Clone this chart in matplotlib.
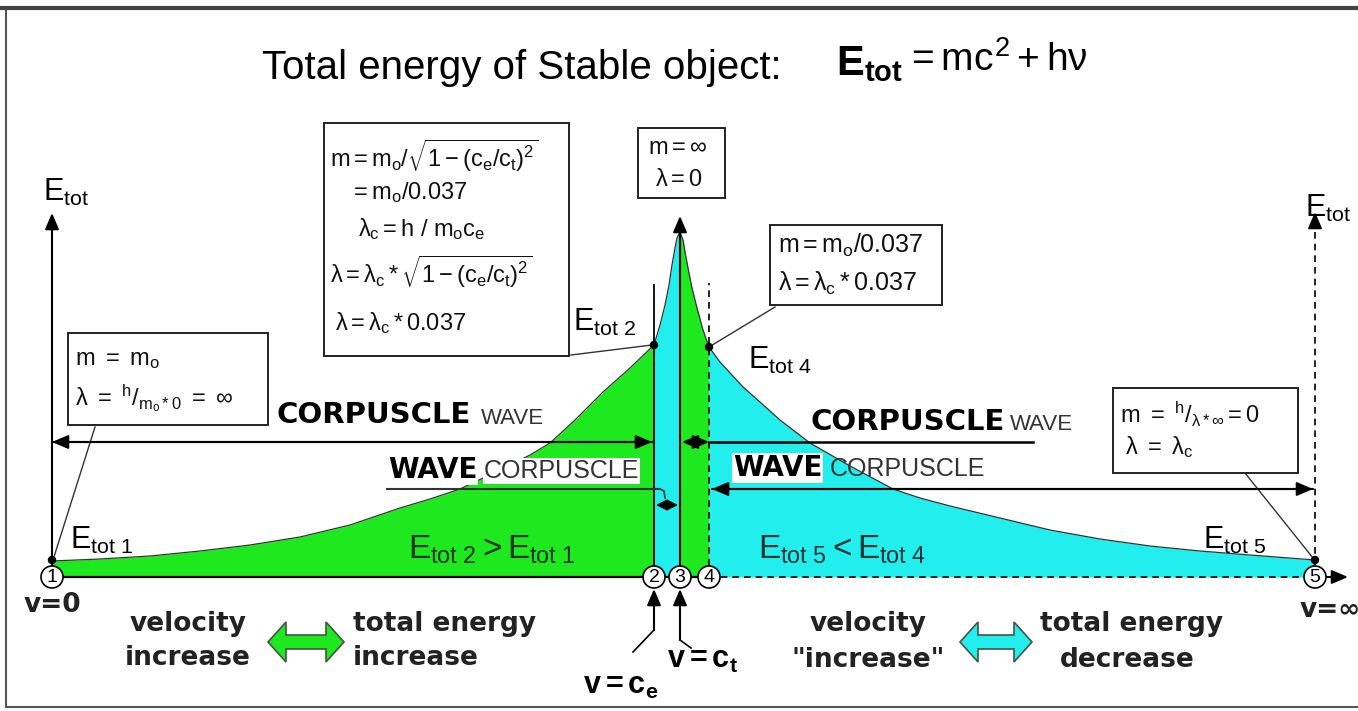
import matplotlib
matplotlib.use("Agg")
import matplotlib.pyplot as plt
from matplotlib.patches import Rectangle, Circle, Polygon

plt.rcParams['mathtext.fontset'] = 'custom'
plt.rcParams['mathtext.rm'] = 'Liberation Sans'
plt.rcParams['mathtext.it'] = 'Liberation Sans'
plt.rcParams['mathtext.bf'] = 'Liberation Sans:bold'
plt.rcParams['font.family'] = ['Liberation Sans', 'DejaVu Sans']

# ---------------- data (pixel-space diagram coordinates) ----------------
baseline = 577
# characteristic points 1..5 on the velocity axis
point_x = [52, 654, 680, 709, 1315]
point_labels = ['1', '2', '3', '4', '5']

# energy envelope: 1 -> 2 (green)
seg12_x = [52, 100, 150, 200, 250, 300, 350, 400, 430, 460, 500, 530, 550, 575, 603, 630, 654]
seg12_y = [561, 559, 556, 551, 545, 537, 525, 508, 499, 489, 470, 455, 443, 420, 392, 368, 345]
# 2 -> 3 (cyan)
seg23_x = [654, 660, 665, 669, 672, 675, 677, 680]
seg23_y = [345, 325, 305, 285, 265, 248, 238, 232]
# 3 -> 4 (green)
seg34_x = [680, 683, 685, 688, 692, 697, 703, 709]
seg34_y = [232, 240, 252, 268, 288, 308, 330, 347]
# 4 -> 5 (cyan)
seg45_x = [709, 720, 743, 760, 780, 810, 850, 893, 920, 950, 1000, 1050, 1100, 1150, 1200, 1250, 1315]
seg45_y = [347, 362, 387, 402, 420, 443, 466, 489, 498, 506, 518, 530, 539, 546, 551, 555, 560]

GREEN = '#1ee81e'
CYAN = '#22eeee'

fig = plt.figure(figsize=(13.58, 7.11), dpi=100)
ax = fig.add_axes([0, 0, 1, 1])
ax.set_xlim(0, 1358)
ax.set_ylim(711, 0)
ax.axis('off')

# outer frame
ax.add_patch(Rectangle((6, 8), 1360, 699, fill=False, ec='#555555', lw=1.5))
ax.plot([0, 1358], [8, 8], color='#444444', lw=3)

# fills
for xs, ys, c in [(seg12_x, seg12_y, GREEN), (seg23_x, seg23_y, CYAN),
                  (seg34_x, seg34_y, GREEN), (seg45_x, seg45_y, CYAN)]:
    ax.fill_between(xs, ys, baseline, color=c, lw=0, zorder=1)
    ax.plot(xs, ys, color='#333333', lw=0.9, zorder=2)

AP = dict(arrowstyle='-|>,head_length=0.7,head_width=0.3', color='black', lw=1.5,
          shrinkA=0, shrinkB=0, mutation_scale=14)
AP2 = dict(arrowstyle='<|-|>,head_length=0.7,head_width=0.3', color='black', lw=1.5,
           shrinkA=0, shrinkB=0, mutation_scale=14)
AP3 = dict(arrowstyle='<|-|>,head_length=0.6,head_width=0.3', color='black', lw=1.2,
           shrinkA=0, shrinkB=0, mutation_scale=11)

def arrow(x0, y0, x1, y1, props=AP):
    ax.annotate('', xy=(x1, y1), xytext=(x0, y0), arrowprops=props, zorder=5)

# horizontal axis
ax.plot([52, 709], [baseline, baseline], color='black', lw=1.6, zorder=3)
ax.plot([709, 1315], [baseline, baseline], color='black', lw=1.2, ls=(0, (4, 3)), zorder=3)
arrow(1326, baseline, 1348, baseline)

# vertical axes
arrow(52, baseline, 52, 213)
ax.plot([1315, 1315], [baseline, 222], color='black', lw=1.2, ls=(0, (4, 3)), zorder=3)
arrow(1315, 226, 1315, 212)
arrow(680, baseline, 680, 216)
ax.plot([654, 654], [baseline, 285], color='black', lw=1.3, zorder=3)
ax.plot([709, 709], [baseline, 283], color='black', lw=1.2, ls=(0, (4, 3)), zorder=3)

# characteristic dots
for (px, py) in [(52, 560), (654, 345), (709, 347), (1315, 560)]:
    ax.add_patch(Circle((px, py), 3.5, color='black', zorder=6))

# numbered circles
for px, lab in zip(point_x, point_labels):
    ax.add_patch(Circle((px, baseline), 11, fc='white', ec='black', lw=1.2, zorder=7))
    ax.text(px, baseline + 1, lab, ha='center', va='center', fontsize=14, zorder=8)

# CORPUSCLE / WAVE arrows
arrow(652, 442, 52, 442)
arrow(52, 442, 652, 442)
ax.plot([709, 1033], [442, 442], color='black', lw=1.8, zorder=4)
arrow(682, 442, 709, 442, AP2)
ax.plot([387, 660], [489, 489], color='#333333', lw=1.5, zorder=4)
ax.plot([660, 664, 665], [489, 491, 498], color='#333333', lw=1.2, zorder=4)
arrow(656, 505, 678, 505, AP3)
arrow(1313, 489, 712, 489)
arrow(712, 489, 1313, 489)

# leader lines
for (x0, y0, x1, y1) in [(95, 427, 53, 560), (571, 355, 652, 345),
                         (775, 307, 709, 347), (1245, 473, 1313, 558)]:
    ax.plot([x0, x1], [y0, y1], color='#333333', lw=1.0, zorder=4)

# boxes
def box(x0, y0, x1, y1):
    ax.add_patch(Rectangle((x0, y0), x1 - x0, y1 - y0, fc='white', ec='#222222', lw=1.4, zorder=5))

box(68, 333, 268, 425)
box(324, 123, 569, 356)
box(638, 128, 725, 198)
box(770, 225, 942, 305)
box(1113, 388, 1298, 473)

BT = dict(fontsize=17, va='center', ha='left', zorder=6, color='#111111')
ax.text(330, 156, r'$m = m_o/\sqrt{1-(c_e/c_t)^2}$', **BT)
ax.text(350, 193, r'$= m_o/0.037$', **BT)
ax.text(358, 229, r'$\lambda_c = h\ /\ m_o c_e$', **BT)
ax.text(330, 272, r'$\lambda = \lambda_c * \sqrt{1-(c_e/c_t)^2}$', **BT)
ax.text(335, 323, r'$\lambda = \lambda_c * 0.037$', **BT)
ax.text(648, 148, r'$m = \infty$', **BT)
ax.text(655, 180, r'$\lambda = 0$', **BT)
ax.text(778, 245, r'$m = m_o/0.037$', fontsize=18, va='center', ha='left', zorder=6, color='#111111')
ax.text(778, 283, r'$\lambda = \lambda_c * 0.037$', fontsize=18, va='center', ha='left', zorder=6, color='#111111')
ax.text(75, 360, r'$m\ =\ m_o$', **BT)
ax.text(75, 398, r'$\lambda\ =\ {}^h/_{m_o * 0}\ =\ \infty$', **BT)
ax.text(1120, 414, r'$m\ =\ {}^h/_{\lambda * \infty} = 0$', **BT)
ax.text(1125, 447, r'$\lambda\ =\ \lambda_c$', **BT)

# E_tot labels
ET = dict(fontsize=22, va='center', ha='left', zorder=6)
ax.text(43, 192, r'$E_{tot}$', **ET)
ax.text(1305, 208, r'$E_{tot}$', **ET)
ax.text(70, 540, r'$E_{tot\ 1}$', **ET)
ax.text(573, 322, r'$E_{tot\ 2}$', **ET)
ax.text(748, 360, r'$E_{tot\ 4}$', **ET)
ax.text(1203, 540, r'$E_{tot\ 5}$', **ET)
ax.text(408, 550, r'$E_{tot\ 2} > E_{tot\ 1}$', color='#113311', fontsize=24, va='center', ha='left', zorder=6)
ax.text(758, 550, r'$E_{tot\ 5} < E_{tot\ 4}$', color='#113333', fontsize=24, va='center', ha='left', zorder=6)

# CORPUSCLE / WAVE words
BOLD = dict(family='DejaVu Sans', fontweight='bold', va='center', ha='left', zorder=6)
ax.text(277, 415, 'CORPUSCLE', fontsize=21, **BOLD)
ax.text(481, 418, 'WAVE', fontsize=16, va='center', ha='left', zorder=6, color='#333333')
ax.text(810, 422, 'CORPUSCLE', fontsize=21, **BOLD)
ax.text(1010, 425, 'WAVE', fontsize=16, va='center', ha='left', zorder=6, color='#333333')
ax.text(388, 470, 'WAVE', fontsize=20, bbox=dict(fc='white', ec='none', pad=0.5), **BOLD)
ax.text(484, 471, 'CORPUSCLE', fontsize=18, va='center', ha='left', zorder=6, color='#333333',
        bbox=dict(fc='white', ec='none', pad=0.5))
ax.text(733, 468, 'WAVE', fontsize=20, bbox=dict(fc='white', ec='none', pad=0.5), **BOLD)
ax.text(830, 469, 'CORPUSCLE', fontsize=18, va='center', ha='left', zorder=6, color='#333333')

# title
ax.text(262, 68, 'Total energy of Stable object:', fontsize=29, va='center', ha='left')
ax.text(836, 64, r'$\mathbf{E_{tot}}$', fontsize=30, va='center', ha='left')
ax.text(905, 60, r'$= mc^2 + h\nu$', fontsize=28, va='center', ha='left')

# bottom labels
LB = dict(family='DejaVu Sans', fontweight='bold', fontsize=19, va='center', zorder=6, color='#222222')
ax.text(52, 605, 'v=0', ha='center', **LB)
ax.text(1330, 610, 'v=∞', ha='center', **LB)
ax.text(188, 624, 'velocity', ha='center', **LB)
ax.text(188, 658, 'increase', ha='center', **LB)
ax.text(353, 624, 'total energy', ha='left', **LB)
ax.text(353, 658, 'increase', ha='left', **LB)
ax.text(868, 624, 'velocity', ha='center', **LB)
ax.text(868, 660, '"increase"', ha='center', **LB)
ax.text(1132, 624, 'total energy', ha='center', **LB)
ax.text(1127, 660, 'decrease', ha='center', **LB)
ax.text(583, 686, r'$\mathbf{v{=}c_e}$', fontsize=22, va='center', ha='left')
ax.text(667, 660, r'$\mathbf{v{=}c_t}$', fontsize=22, va='center', ha='left')

# pointer arrows to circles 2, 3
arrow(654, 630, 654, 589)
ax.plot([654, 633], [630, 652], color='black', lw=1.2)
arrow(680, 640, 680, 589)
ax.plot([680, 691], [640, 648], color='black', lw=1.2)

# big double arrows
def dbl_arrow(x0, x1, yc, color):
    hl = 18
    hh = 20
    sh = 7
    pts = [(x0, yc), (x0 + hl, yc - hh), (x0 + hl, yc - sh), (x1 - hl, yc - sh), (x1 - hl, yc - hh),
           (x1, yc), (x1 - hl, yc + hh), (x1 - hl, yc + sh), (x0 + hl, yc + sh), (x0 + hl, yc + hh)]
    ax.add_patch(Polygon(pts, closed=True, fc=color, ec='#445544', lw=1.2, zorder=6))

dbl_arrow(268, 344, 642, GREEN)
dbl_arrow(960, 1032, 642, CYAN)

fig.savefig('out.png', dpi=100)
